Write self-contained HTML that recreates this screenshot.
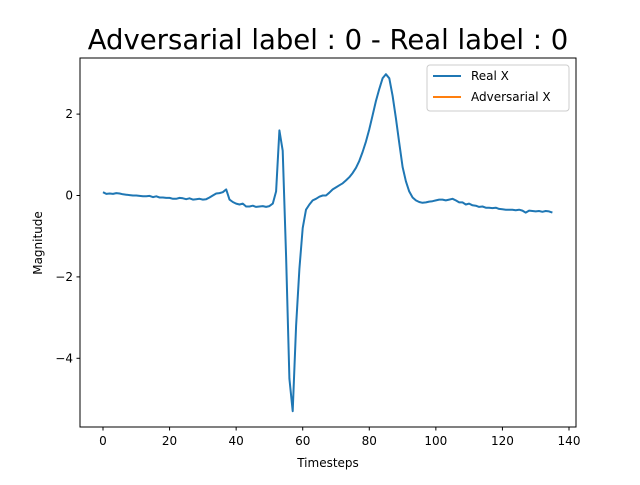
<!DOCTYPE html>
<html><head><meta charset="utf-8"><style>body{margin:0;background:#fff}svg text{font-family:"DejaVu Sans","Liberation Sans",sans-serif}</style></head>
<body>
<svg id="c" width="640" height="480" viewBox="0 0 640 480">
<rect width="640" height="480" fill="#fff"/>
<text x="328" y="49" font-size="27.5" text-anchor="middle">Adversarial label : 0 - Real label : 0</text>
<g id="ax"></g>
<rect x="80" y="58" width="496" height="369" fill="none" stroke="#000" stroke-width="1"/>
<text x="328" y="467" font-size="12" text-anchor="middle">Timesteps</text>
<text x="0" y="0" font-size="12" text-anchor="middle" transform="translate(42,243) rotate(-90)">Magnitude</text>
<g>
<rect x="427" y="65" width="142" height="46" fill="#fff" stroke="#ccc" rx="3"/>
<line x1="433" y1="76" x2="461" y2="76" stroke="#1f77b4" stroke-width="2"/>
<text x="471" y="80" font-size="12">Real X</text>
<line x1="433" y1="97" x2="461" y2="97" stroke="#ff7f0e" stroke-width="2"/>
<text x="471" y="101" font-size="12">Adversarial X</text>
</g>
</svg>
<script>
const realX=[0.08,0.04,0.05,0.04,0.06,0.05,0.03,0.02,0.01,0.0,0.0,-0.01,-0.02,-0.02,-0.01,-0.04,-0.02,-0.05,-0.05,-0.06,-0.06,-0.08,-0.08,-0.06,-0.07,-0.09,-0.07,-0.1,-0.09,-0.08,-0.1,-0.09,-0.05,0.0,0.05,0.06,0.08,0.15,-0.1,-0.16,-0.2,-0.22,-0.2,-0.27,-0.27,-0.25,-0.28,-0.27,-0.26,-0.28,-0.26,-0.2,0.1,1.6,1.1,-1.5,-4.5,-5.3,-3.2,-1.8,-0.8,-0.35,-0.22,-0.12,-0.08,-0.03,0.0,0.0,0.07,0.15,0.2,0.25,0.3,0.37,0.45,0.55,0.68,0.85,1.07,1.33,1.63,1.97,2.32,2.62,2.88,2.98,2.88,2.45,1.9,1.3,0.7,0.35,0.1,-0.05,-0.12,-0.16,-0.18,-0.17,-0.15,-0.14,-0.12,-0.1,-0.1,-0.12,-0.1,-0.08,-0.12,-0.17,-0.17,-0.22,-0.2,-0.24,-0.25,-0.28,-0.27,-0.3,-0.3,-0.31,-0.3,-0.33,-0.34,-0.35,-0.35,-0.35,-0.36,-0.35,-0.37,-0.42,-0.37,-0.38,-0.39,-0.38,-0.4,-0.38,-0.39,-0.42];
const xTicks=[0,20,40,60,80,100,120,140];
const yTicks=[2,0,-2,-4];
const NS='http://www.w3.org/2000/svg';
const X=v=>103+v*(466/140);
const Y=v=>195.5-v*40.7;
const ax=document.getElementById('ax');
function mk(t,a,p){const e=document.createElementNS(NS,t);for(const k in a)e.setAttribute(k,a[k]);(p||ax).appendChild(e);return e;}
xTicks.forEach(t=>{
  const l=mk('line',{x1:X(t),x2:X(t),y1:427,y2:430.5,stroke:'#000'});
  
  
  const tx=mk('text',{x:X(t),y:445,'font-size':12,'text-anchor':'middle'});tx.textContent=t;
  
  
});
yTicks.forEach(t=>{
  const l=mk('line',{x1:76.5,x2:80,y1:Y(t),y2:Y(t),stroke:'#000'});
  
  
  const tx=mk('text',{x:73,y:Y(t)+4,'font-size':12,'text-anchor':'end'});tx.textContent=t<0?'\u2212'+(-t):t;
  
  
});
const pts=realX.map((v,i)=>X(i).toFixed(1)+','+Y(v).toFixed(1)).join(' ');
const pl=mk('polyline',{points:pts,fill:'none',stroke:'#1f77b4','stroke-width':2,'stroke-linejoin':'round'});


</script>
</body></html>
